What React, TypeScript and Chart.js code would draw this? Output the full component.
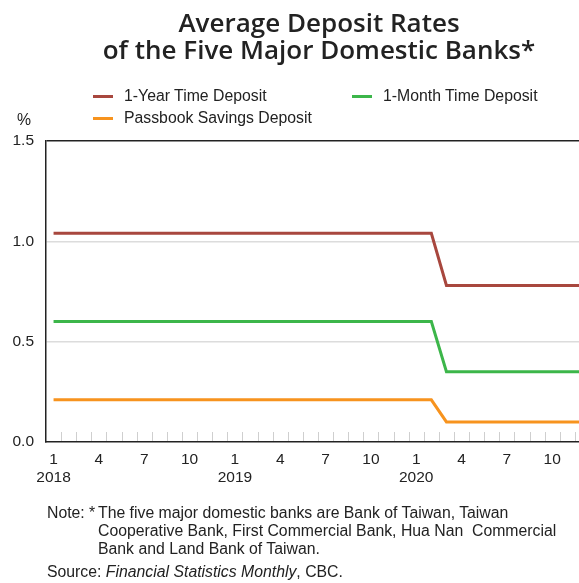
import React, { useEffect, useRef } from "react";
import { Chart, registerables } from "chart.js";

Chart.register(...registerables);

// Monthly series, Jan 2018 – Dec 2020 (36 months)
const years = [2018, 2019, 2020];
const months = Array.from({ length: 12 }, (_, i) => i + 1);
const oneYearBefore = 1.04;
const oneYearAfter = 0.78;
const oneMonthBefore = 0.6;
const oneMonthAfter = 0.35;
const passbookBefore = 0.21;
const passbookAfter = 0.1;
// first month (index) of the lower rates: Mar 2020
const cutIndex = 26;

const categories: string[] = [];
years.forEach((y) => months.forEach((m) => categories.push(`${y}-${m}`)));

const oneYearRates = categories.map((_, i) => (i < cutIndex ? oneYearBefore : oneYearAfter));
const oneMonthRates = categories.map((_, i) => (i < cutIndex ? oneMonthBefore : oneMonthAfter));
const passbookRates = categories.map((_, i) => (i < cutIndex ? passbookBefore : passbookAfter));

const shownMonths = [1, 4, 7, 10];
const yTicks = [0, 0.5, 1.0, 1.5];

const RED = "#a8473e";
const GREEN = "#3cb64a";
const ORANGE = "#f7931e";
const TEXT = "#222";
const FONT = "'Liberation Sans', Arial, sans-serif";
const SIZE = 15.5;
const BODY_SIZE = 15.8;

// short tick marks rising from the x axis at month boundaries
const monthMarks = {
  id: "monthMarks",
  afterDatasetsDraw(chart: any) {
    const x = chart.scales.x;
    const area = chart.chartArea;
    const ctx = chart.ctx;
    ctx.save();
    ctx.strokeStyle = "#cfcfcf";
    ctx.lineWidth = 1;
    for (let i = 1; i < categories.length; i++) {
      const px = Math.round((x.getPixelForValue(i - 1) + x.getPixelForValue(i)) / 2) + 0.5;
      ctx.beginPath();
      ctx.moveTo(px, area.bottom - 1);
      ctx.lineTo(px, area.bottom - 10);
      ctx.stroke();
    }
    ctx.restore();
  },
};

export default function App() {
  const ref = useRef<HTMLCanvasElement>(null);

  useEffect(() => {
    if (!ref.current) return;
    const line = (label: string, data: number[], color: string) => ({
      label,
      data,
      borderColor: color,
      backgroundColor: color,
      borderWidth: 3,
      pointRadius: 0,
      tension: 0,
      fill: false,
    });
    const chart = new Chart(ref.current, {
      type: "line",
      data: {
        labels: categories,
        datasets: [
          line("1-Year Time Deposit", oneYearRates, RED),
          line("1-Month Time Deposit", oneMonthRates, GREEN),
          line("Passbook Savings Deposit", passbookRates, ORANGE),
        ],
      },
      options: {
        responsive: false,
        animation: false,
        layout: { padding: { top: 141, right: 46, left: 0, bottom: 0 } },
        plugins: { legend: { display: false }, title: { display: false }, tooltip: { enabled: false } },
        scales: {
          x: {
            offset: true,
            grid: { display: false, drawTicks: false },
            border: { color: "#222", width: 1.5 },
            ticks: {
              autoSkip: false,
              maxRotation: 0,
              padding: 9,
              color: TEXT,
              font: { family: FONT, size: SIZE, lineHeight: 1.16 },
              callback: (_v: any, i: number) => {
                const m = (i % 12) + 1;
                if (!shownMonths.includes(m)) return "";
                return m === 1 ? [String(m), String(years[Math.floor(i / 12)])] : String(m);
              },
            },
            afterFit: (s: any) => {
              s.height = 583 - 442;
            },
          },
          y: {
            min: 0,
            max: 1.5,
            afterBuildTicks: (s: any) => {
              s.ticks = yTicks.map((v) => ({ value: v }));
            },
            grid: {
              drawTicks: false,
              lineWidth: 1.5,
              color: (c: any) =>
                c.tick && c.tick.value === 1.5 ? "#222" : c.tick && c.tick.value === 0 ? "rgba(0,0,0,0)" : "#dcdcdc",
            },
            border: { color: "#222", width: 1.5 },
            ticks: {
              padding: 12,
              color: TEXT,
              font: { family: FONT, size: SIZE },
              callback: (v: any) => Number(v).toFixed(1),
            },
            afterFit: (s: any) => {
              s.width = 46;
            },
          },
        },
      },
      plugins: [monthMarks],
    });
    return () => chart.destroy();
  }, []);

  const legendItem = (label: string, color: string, x: number, y: number) => (
    <div style={{ position: "absolute", left: x, top: y - 9, height: 18, display: "flex", alignItems: "center" }}>
      <span style={{ display: "inline-block", width: 20, height: 3, background: color, marginRight: 11 }} />
      <span>{label}</span>
    </div>
  );

  const text: React.CSSProperties = { fontFamily: FONT, fontSize: BODY_SIZE, color: TEXT, lineHeight: "18px" };

  return (
    <div
      style={{
        position: "fixed",
        left: 0,
        top: 0,
        width: 579,
        height: 583,
        overflow: "hidden",
        background: "#fff",
        ...text,
      }}
    >
      <canvas ref={ref} width={636} height={583} style={{ position: "absolute", left: 0, top: 0 }} />
      <div
        style={{
          position: "absolute",
          left: 0,
          width: 638,
          top: 9,
          textAlign: "center",
          fontFamily: "'Open Sans', sans-serif",
          fontWeight: 600,
          fontSize: 26,
          lineHeight: "27px",
          color: "#222",
        }}
      >
        Average Deposit Rates
        <br />
        of the Five Major Domestic Banks*
      </div>
      {legendItem("1-Year Time Deposit", RED, 93, 96)}
      {legendItem("1-Month Time Deposit", GREEN, 352, 96)}
      {legendItem("Passbook Savings Deposit", ORANGE, 93, 118)}
      <div style={{ position: "absolute", left: 17, top: 111 }}>%</div>
      <div style={{ position: "absolute", left: 47, top: 504 }}>Note:</div>
      <div style={{ position: "absolute", left: 89, top: 504 }}>*</div>
      <div style={{ position: "absolute", left: 98, top: 504, width: 500 }}>
        The five major domestic banks are Bank of Taiwan, Taiwan
        <br />
        Cooperative Bank, First Commercial Bank, Hua Nan&nbsp; Commercial
        <br />
        Bank and Land Bank of Taiwan.
      </div>
      <div style={{ position: "absolute", left: 47, top: 563 }}>
        Source: <i>Financial Statistics Monthly</i>, CBC.
      </div>
    </div>
  );
}
